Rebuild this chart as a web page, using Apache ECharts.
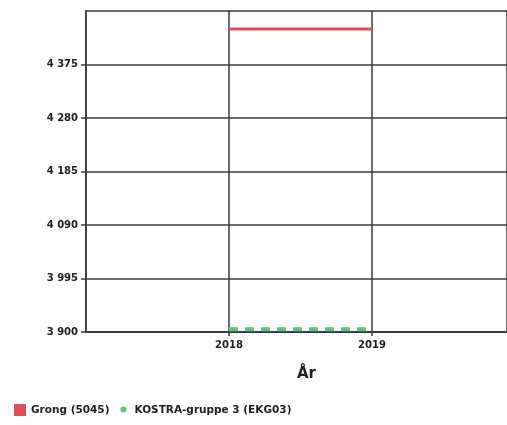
<!DOCTYPE html>
<html><head><meta charset="utf-8">
<script src="https://cdn.jsdelivr.net/npm/echarts@6/dist/echarts.min.js"></script>
<style>html,body{margin:0;padding:0;background:#fff}#c{width:507px;height:425px}</style>
</head><body><div id="c"></div>
<script>
const years = [2018, 2019];
const grong = [4438, 4438];
const kostra = [3905, 3905];
const yTicks = [3900, 3995, 4090, 4185, 4280, 4375];
const yLabels = [3900, 3995, 4090, 4185, 4280, 4375];
const xTicks = [2018, 2019];
const xLabels = [2018, 2019];

const fmt = v => String(v).replace(/\B(?=(\d{3})+(?!\d))/g, '\u00a0');
const chart = echarts.init(document.getElementById('c'), null, {renderer: 'canvas'});
const lineCol = '#3a3a3a';
chart.setOption({
  animation: false,
  backgroundColor: '#fff',
  grid: {left: 86, top: 11, right: 0, bottom: 93, containLabel: false,
         show: true, borderColor: lineCol, borderWidth: 1.5, backgroundColor: 'transparent'},
  xAxis: {
    type: 'value', min: 2017, max: 2019.944,
    name: 'År', nameLocation: 'middle', nameGap: 35,
    nameTextStyle: {fontFamily: 'DejaVu Sans', fontWeight: 'bold', fontSize: 15, color: '#222', padding: [0, 0, 0, 20]},
    axisLine: {show: true, lineStyle: {color: lineCol, width: 1.5}},
    axisTick: {show: true, customValues: xTicks, length: 4, lineStyle: {color: lineCol, width: 1.5}},
    axisLabel: {customValues: xLabels, fontFamily: 'DejaVu Sans', fontWeight: 'bold', fontSize: 10, color: '#222', margin: 8, formatter: v => String(v)},
    splitLine: {show: true, lineStyle: {color: lineCol, width: 1.5}}
  },
  yAxis: {
    type: 'value', min: 3900, max: 4470,
    axisLine: {show: true, lineStyle: {color: lineCol, width: 1.5}},
    axisTick: {show: true, customValues: yTicks, length: 5, lineStyle: {color: lineCol, width: 1.5}},
    axisLabel: {customValues: yLabels, fontFamily: 'DejaVu Sans', fontWeight: 'bold', fontSize: 10, color: '#222', margin: 8, formatter: v => fmt(v)},
    splitLine: {show: true, lineStyle: {color: lineCol, width: 1.5}}
  },
  legend: {
    left: 9, bottom: 4, itemGap: 8, itemWidth: 12, itemHeight: 12,
    textStyle: {fontFamily: 'DejaVu Sans', fontWeight: 'bold', fontSize: 10.5, color: '#222'},
    data: [
      {name: 'Grong (5045)', icon: 'rect'},
      {name: 'KOSTRA-gruppe 3 (EKG03)', icon: 'path://M0,0M12,12M3,5.5A3,3 0 1,0 9,5.5A3,3 0 1,0 3,5.5Z'}
    ]
  },
  series: [
    {name: 'Grong (5045)', type: 'line', data: years.map((y, i) => [y, grong[i]]),
     showSymbol: false, symbol: 'none', color: '#e0505a', lineStyle: {color: '#e0505a', width: 3}},
    {name: 'KOSTRA-gruppe 3 (EKG03)', type: 'line', data: years.map((y, i) => [y, kostra[i]]),
     showSymbol: false, symbol: 'none', color: '#5cc47a', lineStyle: {color: '#5cc47a', width: 4, type: [9, 7]}}
  ]
});
</script></body></html>
